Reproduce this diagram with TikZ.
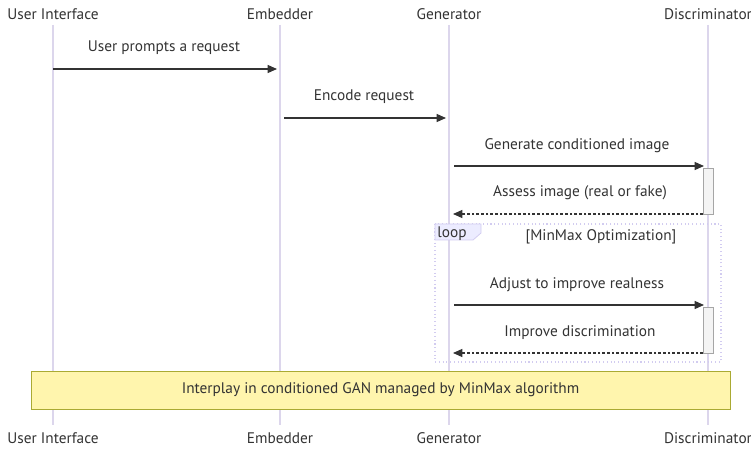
\documentclass[tikz,border=0pt]{standalone}
\usepackage{fontspec}
\setmainfont{PT Sans}
\usetikzlibrary{arrows.meta}

\definecolor{lifeclr}{RGB}{220,214,236}
\definecolor{txtclr}{RGB}{51,51,51}
\definecolor{actclr}{RGB}{244,244,244}
\definecolor{loopclr}{RGB}{210,204,240}
\definecolor{tabclr}{RGB}{236,236,255}
\definecolor{noteclr}{RGB}{255,245,173}
\definecolor{noteedge}{RGB}{170,170,51}

\tikzset{
    actor/.style={text=txtclr, font=\fontsize{11.5}{13}\selectfont, inner sep=0pt},
    msg/.style={text=txtclr, font=\fontsize{11.5}{13}\selectfont, inner sep=0pt},
    call/.style={draw=txtclr, line width=0.9pt, -{Triangle[length=7pt,width=6pt]}},
    reply/.style={call, dashed, dash pattern=on 2pt off 1.5pt},
    lifeline/.style={draw=lifeclr, line width=0.9pt},
    activation/.style={draw=gray!70, fill=actclr, line width=0.6pt},
}

\begin{document}
\begin{tikzpicture}[x=0.75pt, y=-0.75pt]
    \useasboundingbox (0,0) rectangle (751,449);

    % Participants, top and bottom
    \node[actor] (ui) at (53,14) {User Interface};
    \node[actor] (emb) at (280,14) {Embedder};
    \node[actor] (gen) at (449,14) {Generator};
    \node[actor] (dis) at (708,14) {Discriminator};
    \node[actor] (ui b) at (53,438) {User Interface};
    \node[actor] (emb b) at (280,438) {Embedder};
    \node[actor] (gen b) at (449,438) {Generator};
    \node[actor] (dis b) at (708,438) {Discriminator};

    % Lifelines
    \draw[lifeline] (ui.south |- 0,25) -- (ui b.north |- 0,425);
    \draw[lifeline] (emb.south |- 0,25) -- (emb b.north |- 0,425);
    \draw[lifeline] (gen.south |- 0,25) -- (gen b.north |- 0,425);
    \draw[lifeline] (dis.south |- 0,25) -- (dis b.north |- 0,425);

    % Loop frame
    \draw[loopclr, line width=0.8pt, dotted] (435,224) rectangle (721,362);
    \draw[loopclr, fill=tabclr, line width=0.6pt] (435,224) -- (481,224) -- (481,233) -- (473,240) -- (435,240) -- cycle;
    \node[msg] (looplbl) at (452,233.5) {loop};
    \node[msg] (loopcond) at (601,237) {[MinMax Optimization]};

    % Activations
    \draw[activation] (703,168) rectangle (713,214);
    \draw[activation] (703,307) rectangle (713,353);

    % Message end points
    \coordinate (m1a) at (53,69);   \coordinate (m1b) at (277,69);
    \coordinate (m2a) at (284,118); \coordinate (m2b) at (446,118);
    \coordinate (m3a) at (454,166); \coordinate (m3b) at (704,166);
    \coordinate (m4a) at (703,214); \coordinate (m4b) at (453,214);
    \coordinate (m5a) at (454,305); \coordinate (m5b) at (704,305);
    \coordinate (m6a) at (703,353); \coordinate (m6b) at (453,353);

    % Messages
    \draw[call] (m1a) -- (m1b);
    \node[msg] (t1) at (164,48) {User prompts a request};
    \draw[call] (m2a) -- (m2b);
    \node[msg] (t2) at (364,97) {Encode request};
    \draw[call] (m3a) -- (m3b);
    \node[msg] (t3) at (577,146) {Generate conditioned image};
    \draw[reply] (m4a) -- (m4b);
    \node[msg] (t4) at (580,193) {Assess image (real or fake)};
    \draw[call] (m5a) -- (m5b);
    \node[msg] (t5) at (577,285) {Adjust to improve realness};
    \draw[reply] (m6a) -- (m6b);
    \node[msg] (t6) at (580,333) {Improve discrimination};

    % Note over all
    \node[draw=noteedge, fill=noteclr, line width=0.6pt, minimum width=699*0.75pt, minimum height=38*0.75pt, inner sep=0pt, text=txtclr, font=\fontsize{11.5}{13}\selectfont] (note) at (380.5,390) {Interplay in conditioned GAN managed by MinMax algorithm};
\end{tikzpicture}
\end{document}
